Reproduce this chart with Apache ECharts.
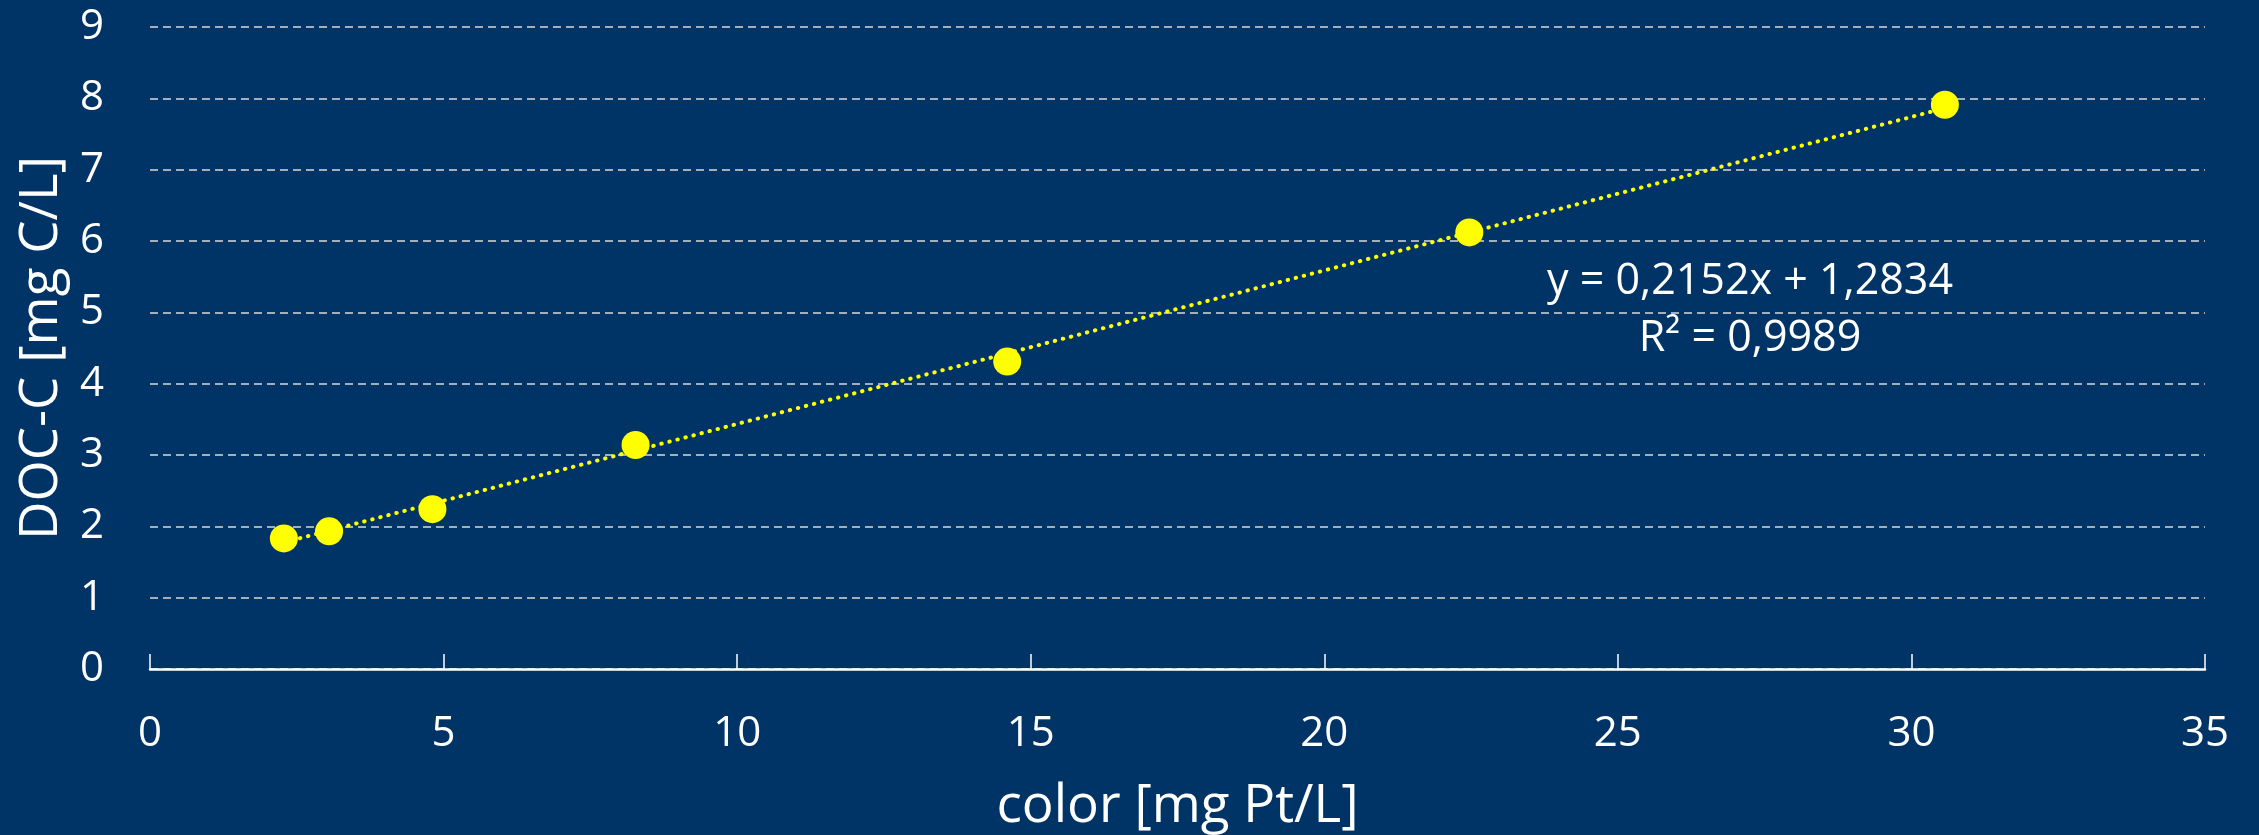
<!DOCTYPE html>
<html>
<head>
<meta charset="utf-8">
<script src="https://cdn.jsdelivr.net/npm/echarts@6/dist/echarts.min.js"></script>
<style>
html,body{margin:0;padding:0;background:#003466;}
#c{width:2259px;height:835px;}
</style>
</head>
<body>
<div id="c"></div>
<script>
// Data
const colorPt = [2.28, 3.05, 4.81, 8.27, 14.6, 22.47, 30.57];
const docC = [1.83, 1.93, 2.24, 3.14, 4.31, 6.12, 7.91];
const trendSlope = [0.2152];
const trendIntercept = [1.2834];
const xTicks = [0, 5, 10, 15, 20, 25, 30, 35];
const yTicks = [0, 1, 2, 3, 4, 5, 6, 7, 8, 9];
const equationLines = ['y = 0,2152x + 1,2834', 'R² = 0,9989'];
const xTitle = 'color [mg Pt/L]';
const yTitle = 'DOC-C [mg C/L]';

const pts = colorPt.map((x, i) => [x, docC[i]]);
const xMin = Math.min(...colorPt), xMax = Math.max(...colorPt);
const trend = [xMin, xMax].map(x => [x, trendSlope[0] * x + trendIntercept[0]]);

const font = '"Open Sans", "Noto Sans", sans-serif';
const chart = echarts.init(document.getElementById('c'));
chart.setOption({
  backgroundColor: '#003466',
  animation: false,
  grid: {left: 150, right: 54, top: 27, bottom: 166, containLabel: false, outerBoundsMode: 'none'},
  xAxis: {
    type: 'value', min: xTicks[0], max: xTicks[xTicks.length - 1], interval: 5,
    name: xTitle, nameLocation: 'middle', nameGap: 111,
    nameTextStyle: {color: '#ffffff', fontSize: 53, fontFamily: font},
    axisLine: {show: true, lineStyle: {color: '#ffffff', width: 2.5}},
    axisTick: {show: true, inside: true, length: 15, lineStyle: {color: '#ffffff', width: 1.5}},
    axisLabel: {color: '#ffffff', fontSize: 42, fontFamily: font, margin: 44},
    splitLine: {show: false}
  },
  yAxis: {
    type: 'value', min: yTicks[0], max: yTicks[yTicks.length - 1], interval: 1,
    name: yTitle, nameLocation: 'middle', nameGap: 82, nameRotate: 90,
    nameTextStyle: {color: '#ffffff', fontSize: 53, fontFamily: font},
    axisLine: {show: false},
    axisTick: {show: false},
    axisLabel: {color: '#ffffff', fontSize: 42, fontFamily: font, margin: 46},
    splitLine: {show: true, lineStyle: {color: '#d9d9d9', width: 1.5, type: [8, 5]}}
  },
  series: [
    {
      type: 'line', data: trend, symbol: 'none', z: 2,
      lineStyle: {color: '#ffff00', width: 4, type: [0.5, 7.8], cap: 'round'}
    },
    {
      type: 'scatter', data: pts, symbol: 'circle', symbolSize: 28, z: 3,
      itemStyle: {color: '#ffff00', opacity: 1}
    }
  ],
  graphic: equationLines.map((t, i) => ({
    type: 'text', x: 1750, y: 260 + i * 57,
    style: {
      text: t, fill: '#ffffff', font: '43px ' + font,
      align: 'center', verticalAlign: 'top'
    }
  }))
});
</script>
</body>
</html>
